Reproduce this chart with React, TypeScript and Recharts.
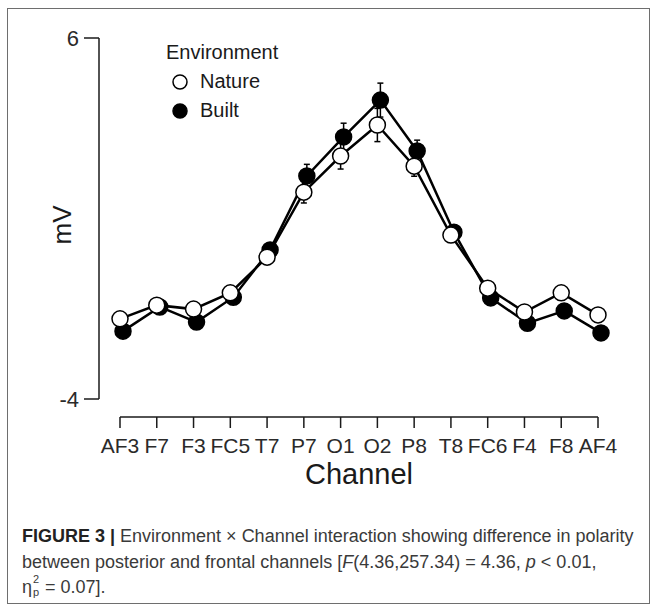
import React from "react";
import { LineChart, Line, XAxis, YAxis, ErrorBar, ReferenceLine, Legend } from "recharts";

// EEG channels along the x axis
const channels = ["AF3", "F7", "F3", "FC5", "T7", "P7", "O1", "O2", "P8", "T8", "FC6", "F4", "F8", "AF4"];

// mean amplitude (mV) per environment
const natureValues = [-1.78, -1.4, -1.51, -1.06, -0.07, 1.73, 2.73, 3.59, 2.45, 0.54, -0.93, -1.59, -1.06, -1.67];
const builtValues = [-2.12, -1.45, -1.87, -1.18, 0.13, 2.18, 3.26, 4.28, 2.87, 0.62, -1.2, -1.9, -1.56, -2.17];

// standard errors (most are hidden under the markers)
const natureErrors = [0.15, 0.15, 0.15, 0.15, 0.2, 0.3, 0.36, 0.46, 0.28, 0.2, 0.15, 0.15, 0.15, 0.15];
const builtErrors = [0.15, 0.15, 0.15, 0.15, 0.2, 0.32, 0.38, 0.47, 0.3, 0.2, 0.15, 0.15, 0.15, 0.15];

const yTicks = [-4, 6];
const legendOrder = ["Nature", "Built"];

const data = channels.map((name, i) => ({
  name,
  nature: natureValues[i],
  built: builtValues[i],
  natureErr: natureErrors[i],
  builtErr: builtErrors[i],
}));

const font = "'Liberation Sans', Arial, Helvetica, sans-serif";
const ink = "#1a1a1a";

function ChannelTick({ x, y, payload }: any) {
  return (
    <g>
      <line x1={x} x2={x} y1={y + 18} y2={y + 29} stroke={ink} strokeWidth={1.5} />
      <text x={x} y={y + 54} textAnchor="middle" fontSize={21} fontFamily={font} fill="#2a2a2a">
        {payload.value}
      </text>
    </g>
  );
}

function EnvLegend({ payload }: any) {
  const items = [...(payload || [])].sort(
    (a: any, b: any) => legendOrder.indexOf(a.value) - legendOrder.indexOf(b.value)
  );
  return (
    <div style={{ fontFamily: font, color: ink, fontSize: 20, lineHeight: "29px" }}>
      <div>Environment</div>
      {items.map((it: any) => (
        <div key={it.value} style={{ display: "flex", alignItems: "center" }}>
          <svg width={32} height={20}>
            <circle cx={14} cy={10} r={7} fill={it.value === "Built" ? "#000" : "#fff"} stroke="#000" strokeWidth={1.5} />
          </svg>
          <span style={{ marginLeft: 2 }}>{it.value}</span>
        </div>
      ))}
    </div>
  );
}

export default function App() {
  return (
    <div style={{ position: "absolute", left: 0, top: 0, width: 657, height: 612, background: "#fff" }}>
      <div
        style={{
          position: "absolute",
          left: 7,
          top: 8,
          width: 643,
          height: 596,
          border: "1px solid #6e6e6e",
          boxSizing: "border-box",
        }}
      />
      <div style={{ position: "absolute", left: 0, top: 0 }}>
        <LineChart width={657} height={500} data={data} margin={{ top: 38, right: 56, left: 0, bottom: 41 }}>
          <XAxis
            dataKey="name"
            interval={0}
            axisLine={false}
            tickLine={false}
            tickSize={0}
            tickMargin={0}
            height={60}
            padding={{ left: 21, right: 3 }}
            tick={<ChannelTick />}
          />
          <XAxis dataKey="name" xAxisId="b" hide padding={{ left: 24, right: 0 }} />
          <YAxis
            domain={[-4, 6]}
            ticks={yTicks}
            width={99}
            tickSize={15}
            tickMargin={5}
            axisLine={{ stroke: ink, strokeWidth: 1.5 }}
            tickLine={{ stroke: ink, strokeWidth: 1.5 }}
            tick={{ fontSize: 22, fontFamily: font, fill: "#2a2a2a" }}
          />
          <ReferenceLine
            segment={[{ x: "AF3", y: -4.5 }, { x: "AF4", y: -4.5 }]}
            ifOverflow="visible"
            stroke={ink}
            strokeWidth={1.5}
          />
          <Legend
            layout="vertical"
            align="center"
            verticalAlign="middle"
            content={<EnvLegend />}
            wrapperStyle={{ position: "absolute", left: 166, top: 38, width: 160 }}
          />
          <Line
            xAxisId="b"
            dataKey="built"
            name="Built"
            stroke="#000"
            strokeWidth={2.5}
            dot={{ r: 8, fill: "#000", stroke: "#000", strokeWidth: 1.5 }}
            activeDot={false}
            isAnimationActive={false}
          >
            <ErrorBar dataKey="builtErr" width={3} stroke="#000" strokeWidth={1.5} />
          </Line>
          <Line
            dataKey="nature"
            name="Nature"
            stroke="#000"
            strokeWidth={2.5}
            dot={{ r: 8, fill: "#fff", stroke: "#000", strokeWidth: 1.5 }}
            activeDot={false}
            isAnimationActive={false}
          >
            <ErrorBar dataKey="natureErr" width={3} stroke="#000" strokeWidth={1.5} />
          </Line>
        </LineChart>
      </div>
      <div
        style={{
          position: "absolute",
          left: 62,
          top: 225,
          transform: "translate(-50%, -50%) rotate(-90deg)",
          fontFamily: font,
          fontSize: 26,
          color: ink,
          whiteSpace: "nowrap",
        }}
      >
        mV
      </div>
      <div
        style={{
          position: "absolute",
          left: 359,
          top: 474,
          transform: "translate(-50%, -50%)",
          fontFamily: font,
          fontSize: 29,
          color: ink,
          whiteSpace: "nowrap",
        }}
      >
        Channel
      </div>
      <div
        style={{
          position: "absolute",
          left: 22,
          top: 524,
          fontFamily: font,
          fontSize: 18,
          lineHeight: "25.5px",
          color: "#3a3a3a",
          whiteSpace: "nowrap",
        }}
      >
        <b style={{ color: "#222" }}>FIGURE 3 |</b> Environment × Channel interaction showing difference in polarity
        <br />
        between posterior and frontal channels [<i>F</i>(4.36,257.34) = 4.36, <i>p</i> &lt; 0.01,
        <br />
        η
        <span style={{ position: "relative", display: "inline-block", width: 8, height: 20, verticalAlign: "middle" }}>
          <span style={{ position: "absolute", left: 1, top: -4, fontSize: 11, lineHeight: "11px" }}>2</span>
          <span style={{ position: "absolute", left: 1, top: 9, fontSize: 11, lineHeight: "11px" }}>p</span>
        </span>{" "}
        = 0.07].
      </div>
    </div>
  );
}
